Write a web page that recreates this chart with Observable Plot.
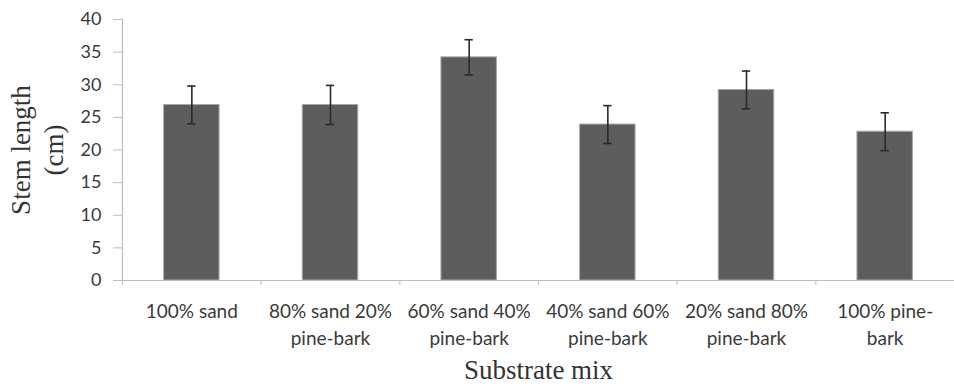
<!DOCTYPE html>
<html>
<head>
<meta charset="utf-8">
<script src="https://cdn.jsdelivr.net/npm/d3@7"></script>
<script src="https://cdn.jsdelivr.net/npm/@observablehq/plot@0.6"></script>
<style>
  html, body { margin: 0; padding: 0; background: #fff; }
</style>
</head>
<body>
<div id="chart"></div>
<script>
const categories = [
  "100% sand",
  "80% sand 20%\npine-bark",
  "60% sand 40%\npine-bark",
  "40% sand 60%\npine-bark",
  "20% sand 80%\npine-bark",
  "100% pine-\nbark"
];
const means = [26.9, 26.9, 34.2, 23.9, 29.2, 22.8];
const errors = [2.9, 3.0, 2.7, 2.9, 2.9, 2.9];
const yTicks = [0, 5, 10, 15, 20, 25, 30, 35, 40];

const rows = categories.map((label, i) => ({i, label, mean: means[i], err: errors[i]}));
const boundaries = d3.range(categories.length + 1);

const axisColor = "#bdbdbd";
const tickFont = "Lato, 'Open Sans', sans-serif";
const titleFont = "'Liberation Serif', 'DejaVu Serif', serif";

const chart = Plot.plot({
  width: 954,
  height: 386,
  marginTop: 19,
  marginBottom: 106,
  marginLeft: 122,
  marginRight: 0,
  x: {domain: [0, categories.length], axis: null},
  y: {domain: [0, 40], axis: null},
  marks: [
    Plot.rectY(rows, {
      x1: d => d.i + 0.3, x2: d => d.i + 0.7, y: "mean",
      fill: "#5d5d5d", stroke: "#a8a8a8", strokeWidth: 1
    }),
    Plot.ruleY([0], {stroke: axisColor, strokeWidth: 1.2}),
    Plot.ruleX([0], {stroke: axisColor, strokeWidth: 1.2}),
    Plot.ruleX(rows, {
      x: d => d.i + 0.5, y1: d => d.mean - d.err, y2: d => d.mean + d.err,
      stroke: "#2a2a2a", strokeWidth: 1.6
    }),
    Plot.ruleY(rows, {
      y: d => d.mean - d.err, x1: d => d.i + 0.47, x2: d => d.i + 0.53,
      stroke: "#2a2a2a", strokeWidth: 1.6
    }),
    Plot.ruleY(rows, {
      y: d => d.mean + d.err, x1: d => d.i + 0.47, x2: d => d.i + 0.53,
      stroke: "#2a2a2a", strokeWidth: 1.6
    }),
    Plot.axisY({
      ticks: yTicks, tickSize: 9, tickPadding: 12, stroke: axisColor,
      fontSize: 18, fontFamily: tickFont, fill: "#3a3a3a", label: null
    }),
    Plot.axisX({
      ticks: boundaries, tickSize: 5, tickFormat: () => "", stroke: axisColor, label: null
    }),
    Plot.text(rows, {
      x: d => d.i + 0.5, y: 0, text: "label", dy: 18, lineAnchor: "top",
      fontSize: 19, fontFamily: tickFont, fill: "#3a3a3a", lineHeight: 1.42
    }),
    Plot.text(["Stem length\n(cm)"], {
      frameAnchor: "left", textAnchor: "middle", dx: -87, rotate: -90, lineAnchor: "middle",
      fontSize: 27, fontFamily: titleFont, fill: "#333", lineHeight: 1.22
    }),
    Plot.text(["Substrate mix"], {
      frameAnchor: "bottom", dy: 90, lineAnchor: "middle",
      fontSize: 27, fontFamily: titleFont, fill: "#333"
    })
  ]
});

document.getElementById("chart").appendChild(chart);
</script>
</body>
</html>
